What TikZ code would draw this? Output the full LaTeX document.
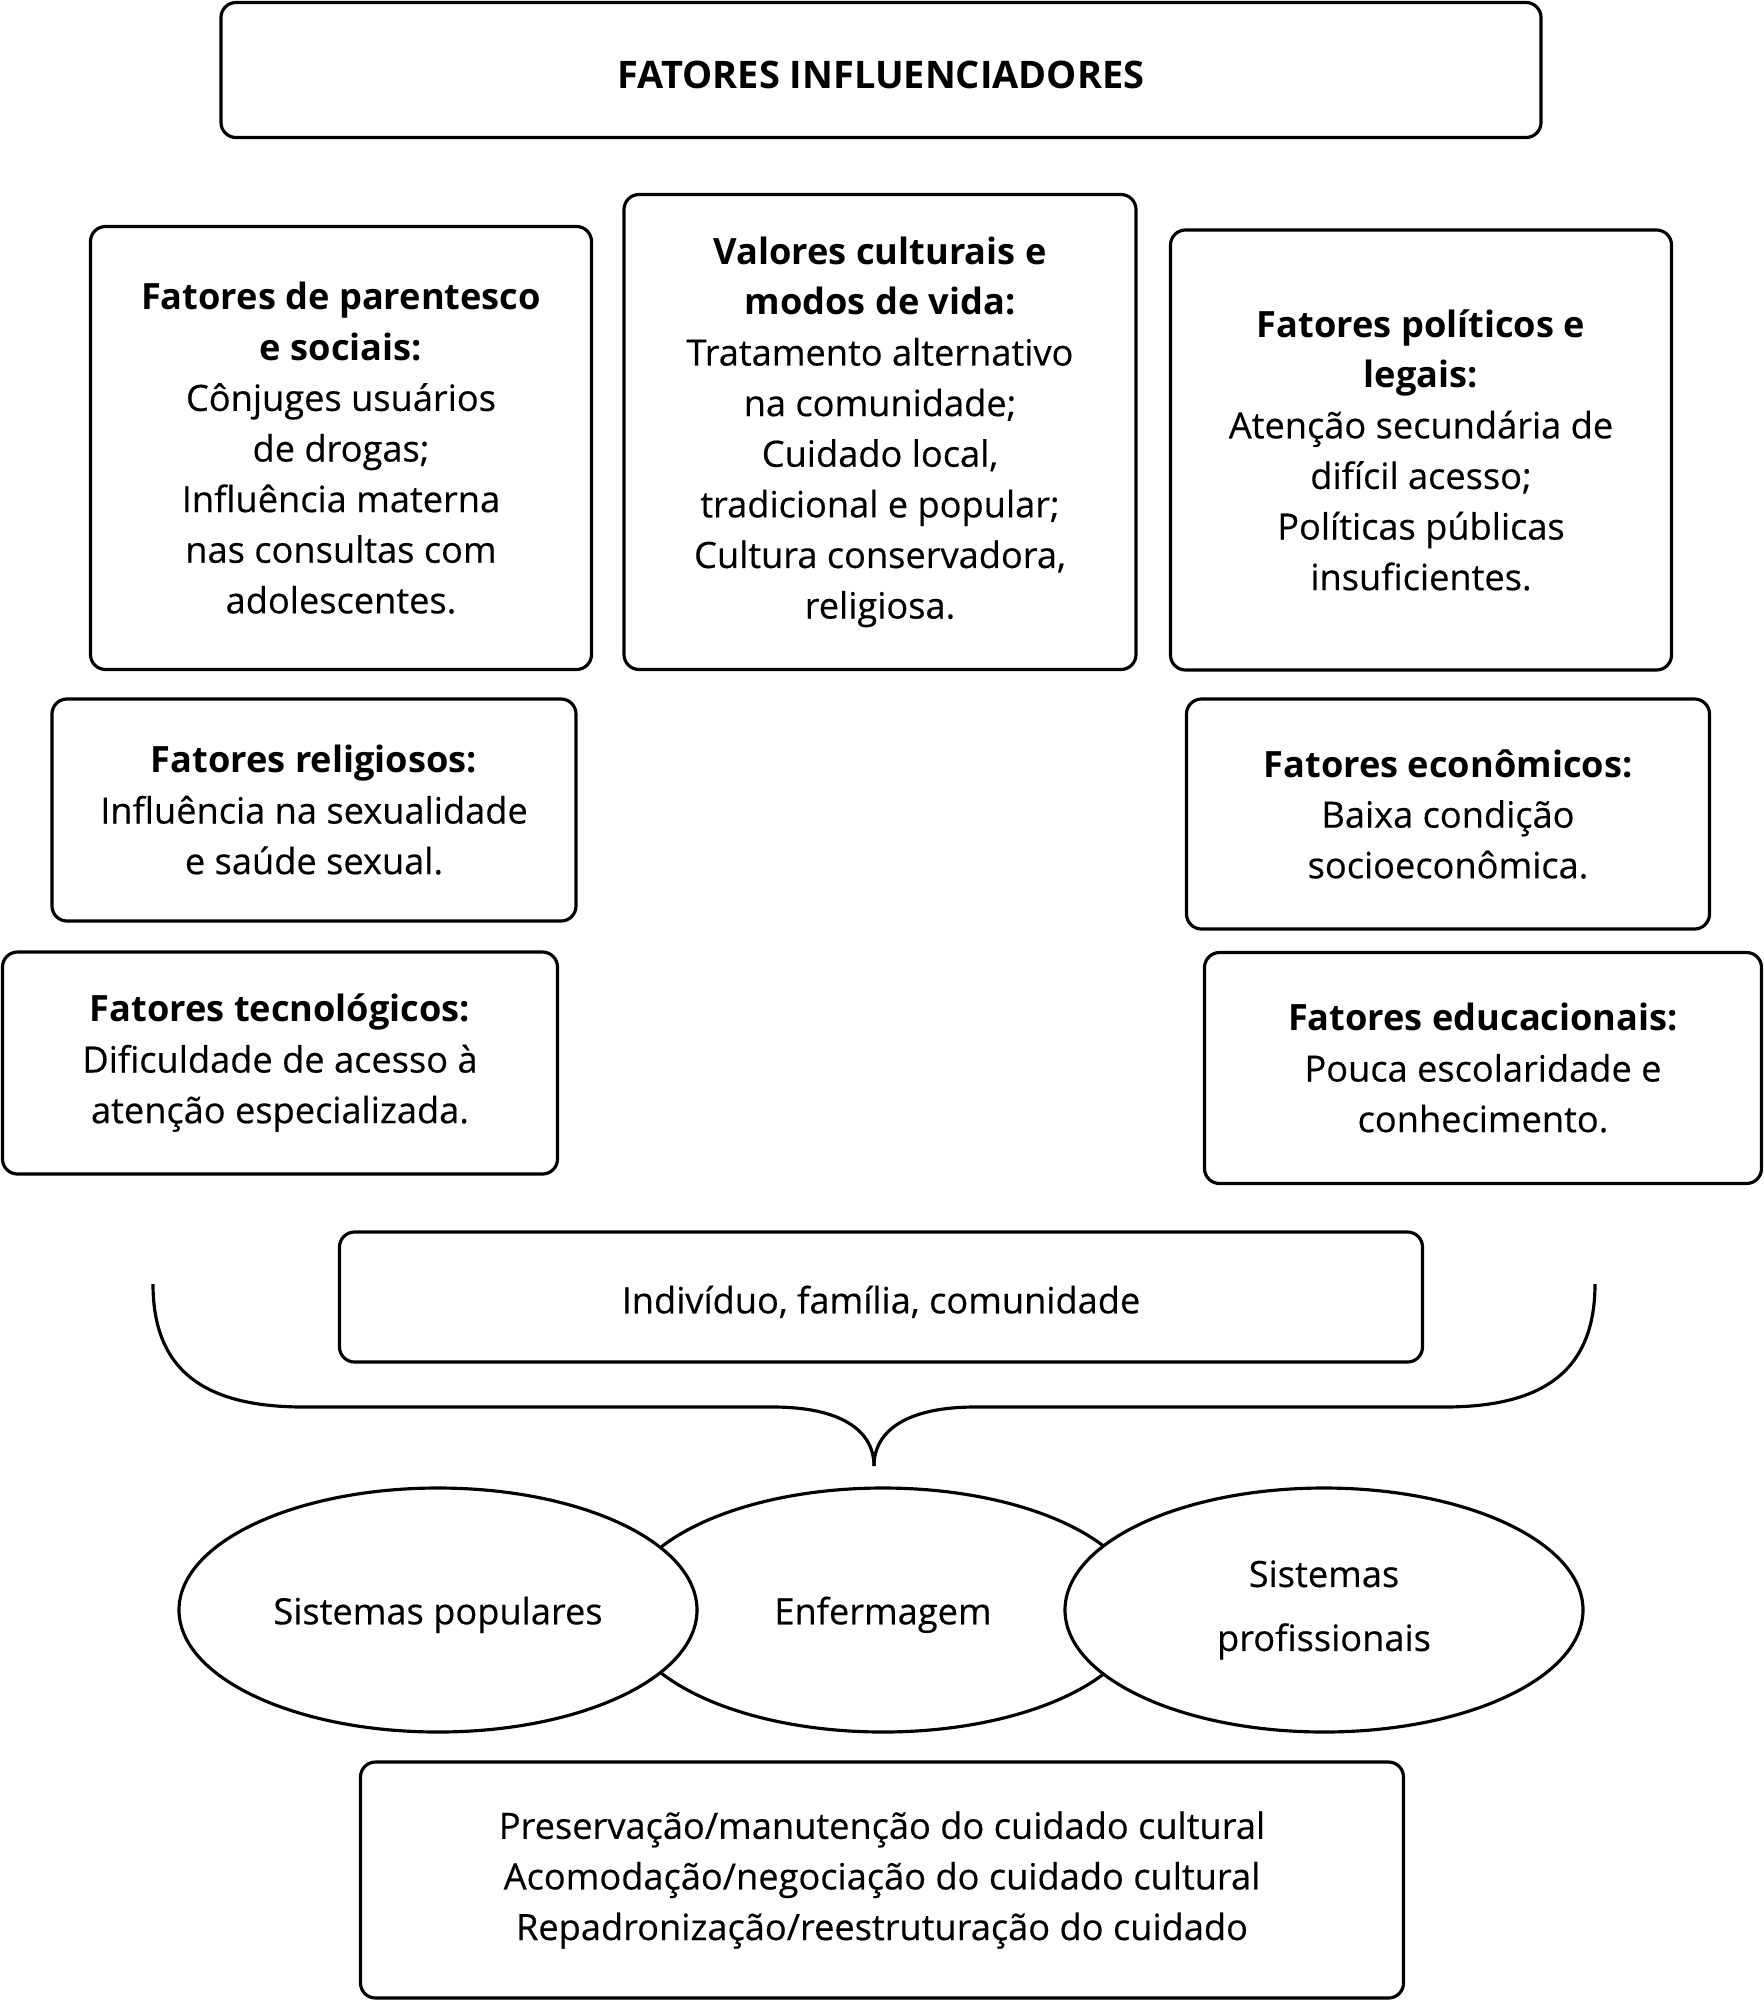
\documentclass[tikz,border=0pt]{standalone}
\usepackage{fontspec}
\setmainfont{Open Sans}[UprightFeatures={FakeBold=0.4}]
\usetikzlibrary{shapes.geometric}
\begin{document}
\begin{tikzpicture}[line width=0.9pt]
        \tikzstyle{every node}=[font=\fontsize{10.3}{14.4}\selectfont, align=center, inner sep=0pt, execute at begin node={\rule{0pt}{10.6pt}}]
        \tikzstyle{box}=[draw, rounded corners=1.5mm]
        \tikzstyle{oval}=[draw, ellipse, fill=white, minimum width=5.18cm, minimum height=2.44cm]
        \useasboundingbox (0,0) rectangle (17.63,-20);
        \node [box, minimum width=13.2cm, minimum height=1.35cm, font=\fontsize{10.8}{14.4}\selectfont] (titulo) at (8.81,-0.70) {\textbf{FATORES INFLUENCIADORES}};
        \node [box, minimum width=5.01cm, minimum height=4.43cm] (parentesco) at (3.41,-4.48) {\textbf{Fatores de parentesco}\\ \textbf{e sociais:}\\ Cônjuges usuários\\ de drogas;\\ Influência materna\\ nas consultas com\\ adolescentes.};
        \node [box, minimum width=5.12cm, minimum height=4.75cm] (valores) at (8.80,-4.32) {\textbf{Valores culturais e}\\ \textbf{modos de vida:}\\ Tratamento alternativo\\ na comunidade;\\ Cuidado local,\\ tradicional e popular;\\ Cultura conservadora,\\ religiosa.};
        \node [box, minimum width=5.01cm, minimum height=4.40cm] (politicos) at (14.21,-4.50) {\textbf{Fatores políticos e}\\ \textbf{legais:}\\ Atenção secundária de\\ difícil acesso;\\ Políticas públicas\\ insuficientes.};
        \node [box, minimum width=5.24cm, minimum height=2.22cm] (religiosos) at (3.14,-8.10) {\textbf{Fatores religiosos:}\\ Influência na sexualidade\\ e saúde sexual.};
        \node [box, minimum width=5.23cm, minimum height=2.30cm] (economicos) at (14.48,-8.14) {\textbf{Fatores econômicos:}\\ Baixa condição\\ socioeconômica.};
        \node [box, minimum width=5.55cm, minimum height=2.22cm] (tecnologicos) at (2.80,-10.63) {\textbf{Fatores tecnológicos:}\\ Dificuldade de acesso à\\ atenção especializada.};
        \node [box, minimum width=5.57cm, minimum height=2.31cm] (educacionais) at (14.83,-10.68) {\textbf{Fatores educacionais:}\\ Pouca escolaridade e\\ conhecimento.};
        \node [box, minimum width=10.83cm, minimum height=1.30cm] (individuo) at (8.81,-12.97) {Indivíduo, família, comunidade};
        % chave
        \coordinate (chaveE) at (1.53,-12.84);
        \coordinate (chaveD) at (15.95,-12.84);
        \coordinate (ponta) at (8.74,-14.66);
        \draw (chaveE) .. controls (1.53,-13.75) and (2.10,-14.07) .. (3.04,-14.07) -- (7.73,-14.07) .. controls (8.40,-14.07) and (8.74,-14.30) .. (ponta);
        \draw (chaveD) .. controls (15.95,-13.75) and (15.38,-14.07) .. (14.44,-14.07) -- (9.75,-14.07) .. controls (9.08,-14.07) and (8.74,-14.30) .. (ponta);
        % elipses
        \node [oval] (enfermagem) at (8.83,-16.10) {Enfermagem};
        \node [oval] (populares) at (4.38,-16.10) {Sistemas populares};
        \node [oval, font=\fontsize{10.3}{18.2}\selectfont] (profissionais) at (13.24,-16.10) {Sistemas\\ profissionais};
        \node [box, minimum width=10.43cm, minimum height=2.36cm] (cuidado) at (8.82,-18.80) {Preservação/manutenção do cuidado cultural\\ Acomodação/negociação do cuidado cultural\\ Repadronização/reestruturação do cuidado};
\end{tikzpicture}
\end{document}
